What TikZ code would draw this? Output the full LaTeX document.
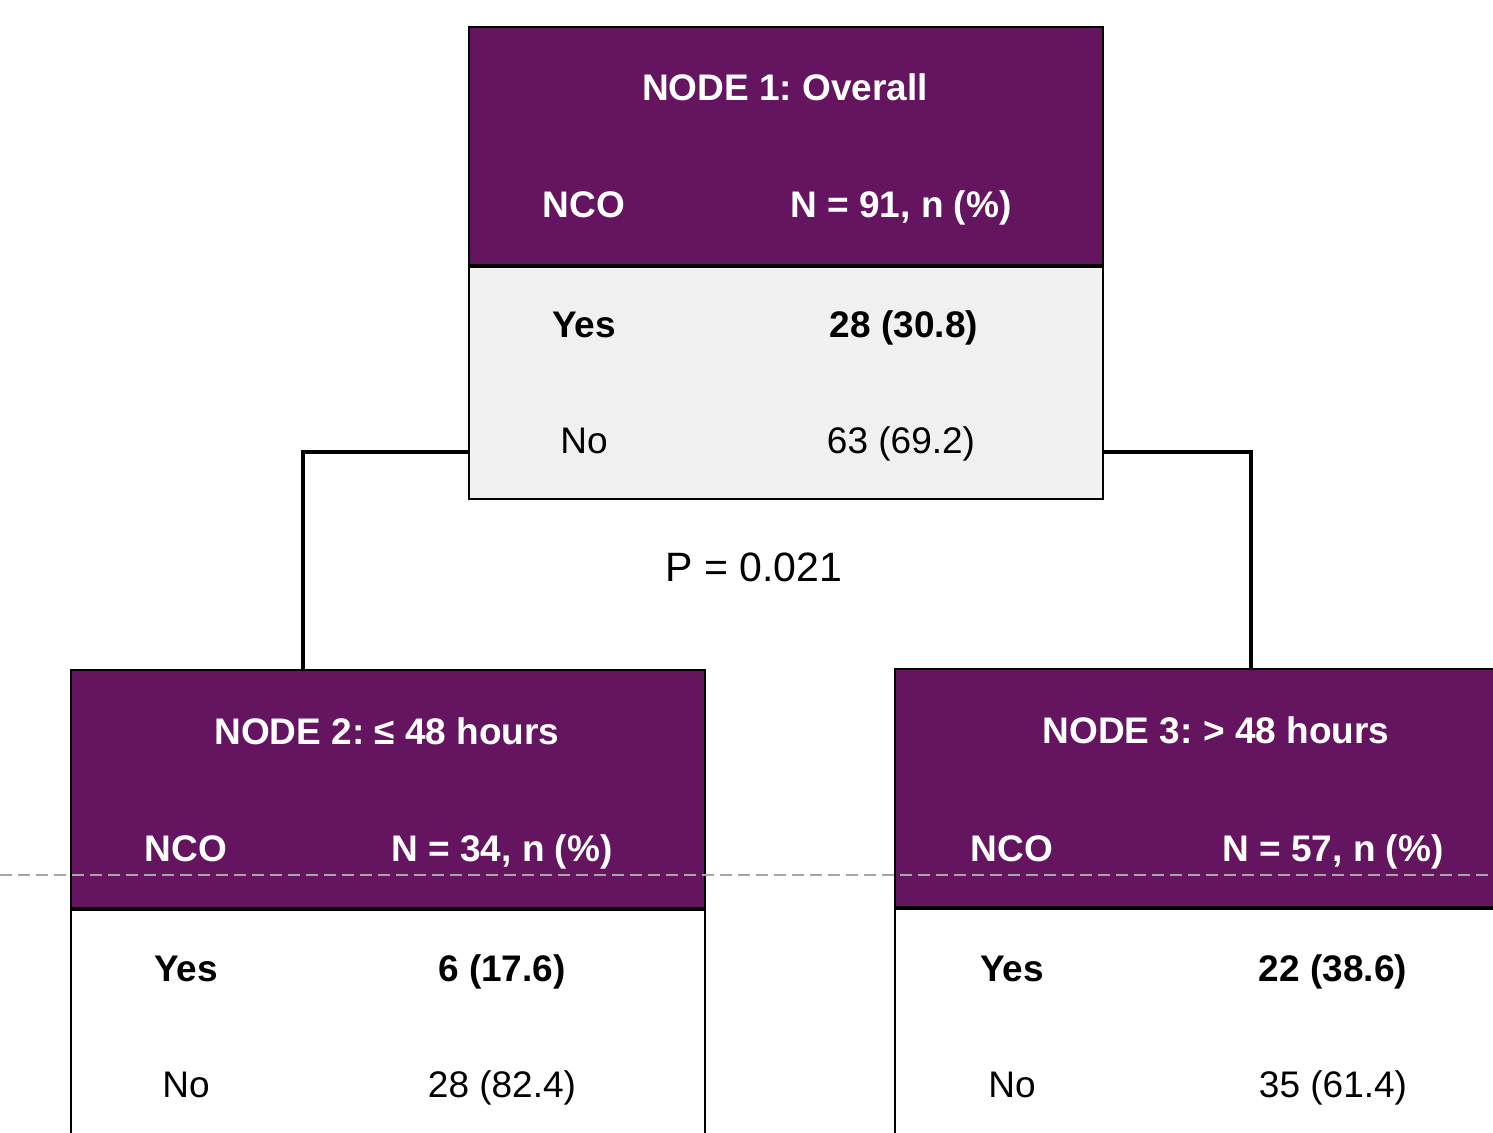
\documentclass[tikz,border=0pt]{standalone}
\usepackage{fontspec}
\setmainfont{Liberation Sans}
\usepackage{xcolor}
\usepackage{tikz}
\usetikzlibrary{positioning}
\definecolor{TreePurple}{HTML}{651560}
\definecolor{TreeGrey}{HTML}{F0F0F0}
\definecolor{CutGrey}{HTML}{A6A6A6}
\frenchspacing

\begin{document}
\begin{tikzpicture}[
  x=0.5pt, y=-0.5pt,
  head/.style={draw=black, line width=1pt, fill=TreePurple, minimum width=317pt, minimum height=119pt, inner sep=0pt},
  body/.style={draw=black, line width=1pt, minimum width=317pt, minimum height=116pt, inner sep=0pt},
  txt/.style={text height=16pt, text depth=3pt, inner sep=0pt},
  title/.style={txt, text=white, font=\fontsize{18.5}{22}\selectfont\bfseries},
  cell/.style={txt, font=\fontsize{18.5}{22}\selectfont},
  yescell/.style={txt, font=\fontsize{18.5}{22}\selectfont\bfseries},
  link/.style={line width=2pt, draw=black},
  cut/.style={dashed, dash pattern=on 6pt off 3pt, draw=CutGrey, line width=1pt}
]
  \clip (0,0) rectangle (1493,1133);
  \fill[white] (0,0) rectangle (1493,1133);

  % node 1
  \node[head] (n1h) at (786,146) {};
  \node[body, fill=TreeGrey, below=0pt of n1h] (n1b) {};
  \node[title] (n1t) at (785,88) {NODE 1: Overall};
  \node[title] (n1c) at (584,205) {NCO};
  \node[title] (n1n) at (901,205) {N = 91, n (\%)};
  \node[yescell] (n1y) at (584,325) {Yes};
  \node[yescell] (n1yv) at (904,325) {28 (30.8)};
  \node[cell] (n1o) at (584,441) {No};
  \node[cell] (n1ov) at (901,441) {63 (69.2)};

  % node 2
  \node[head] (n2h) at (388,788.5) {};
  \node[body, fill=white, below=0pt of n2h] (n2b) {};
  \node[title] (n2t) at (387,731) {NODE 2: ≤ 48 hours};
  \node[title] (n2c) at (186,848) {NCO};
  \node[title] (n2n) at (502,848) {N = 34, n (\%)};
  \node[yescell] (n2y) at (186,968) {Yes};
  \node[yescell] (n2yv) at (502,968) {6 (17.6)};
  \node[cell] (n2o) at (186,1084) {No};
  \node[cell] (n2ov) at (502,1084) {28 (82.4)};

  % node 3
  \node[head] (n3h) at (1212,788) {};
  \node[body, fill=white, below=0pt of n3h] (n3b) {};
  \node[title] (n3t) at (1216,730) {NODE 3: > 48 hours};
  \node[title] (n3c) at (1012,848) {NCO};
  \node[title] (n3n) at (1333,848) {N = 57, n (\%)};
  \node[yescell] (n3y) at (1012,968) {Yes};
  \node[yescell] (n3yv) at (1333,968) {22 (38.6)};
  \node[cell] (n3o) at (1012,1084) {No};
  \node[cell] (n3ov) at (1333,1084) {35 (61.4)};

  % split
  \coordinate (drop2) at (303,452);
  \coordinate (drop3) at (1251,452);
  \draw[link] (drop2 -| n1b.west) -| (drop2 |- n2h.north);
  \draw[link] (drop3 -| n1b.east) -| (drop3 |- n3h.north);
  \node[font=\fontsize{20.5}{24}\selectfont, text height=17.5pt, text depth=3pt, inner sep=0pt] (pval) at (754,567) {P = 0.021};

  \coordinate (cutL) at (0,875);
  \coordinate (cutR) at (1493,875);
  \draw[cut] (cutL) -- (cutR);
\end{tikzpicture}
\end{document}
